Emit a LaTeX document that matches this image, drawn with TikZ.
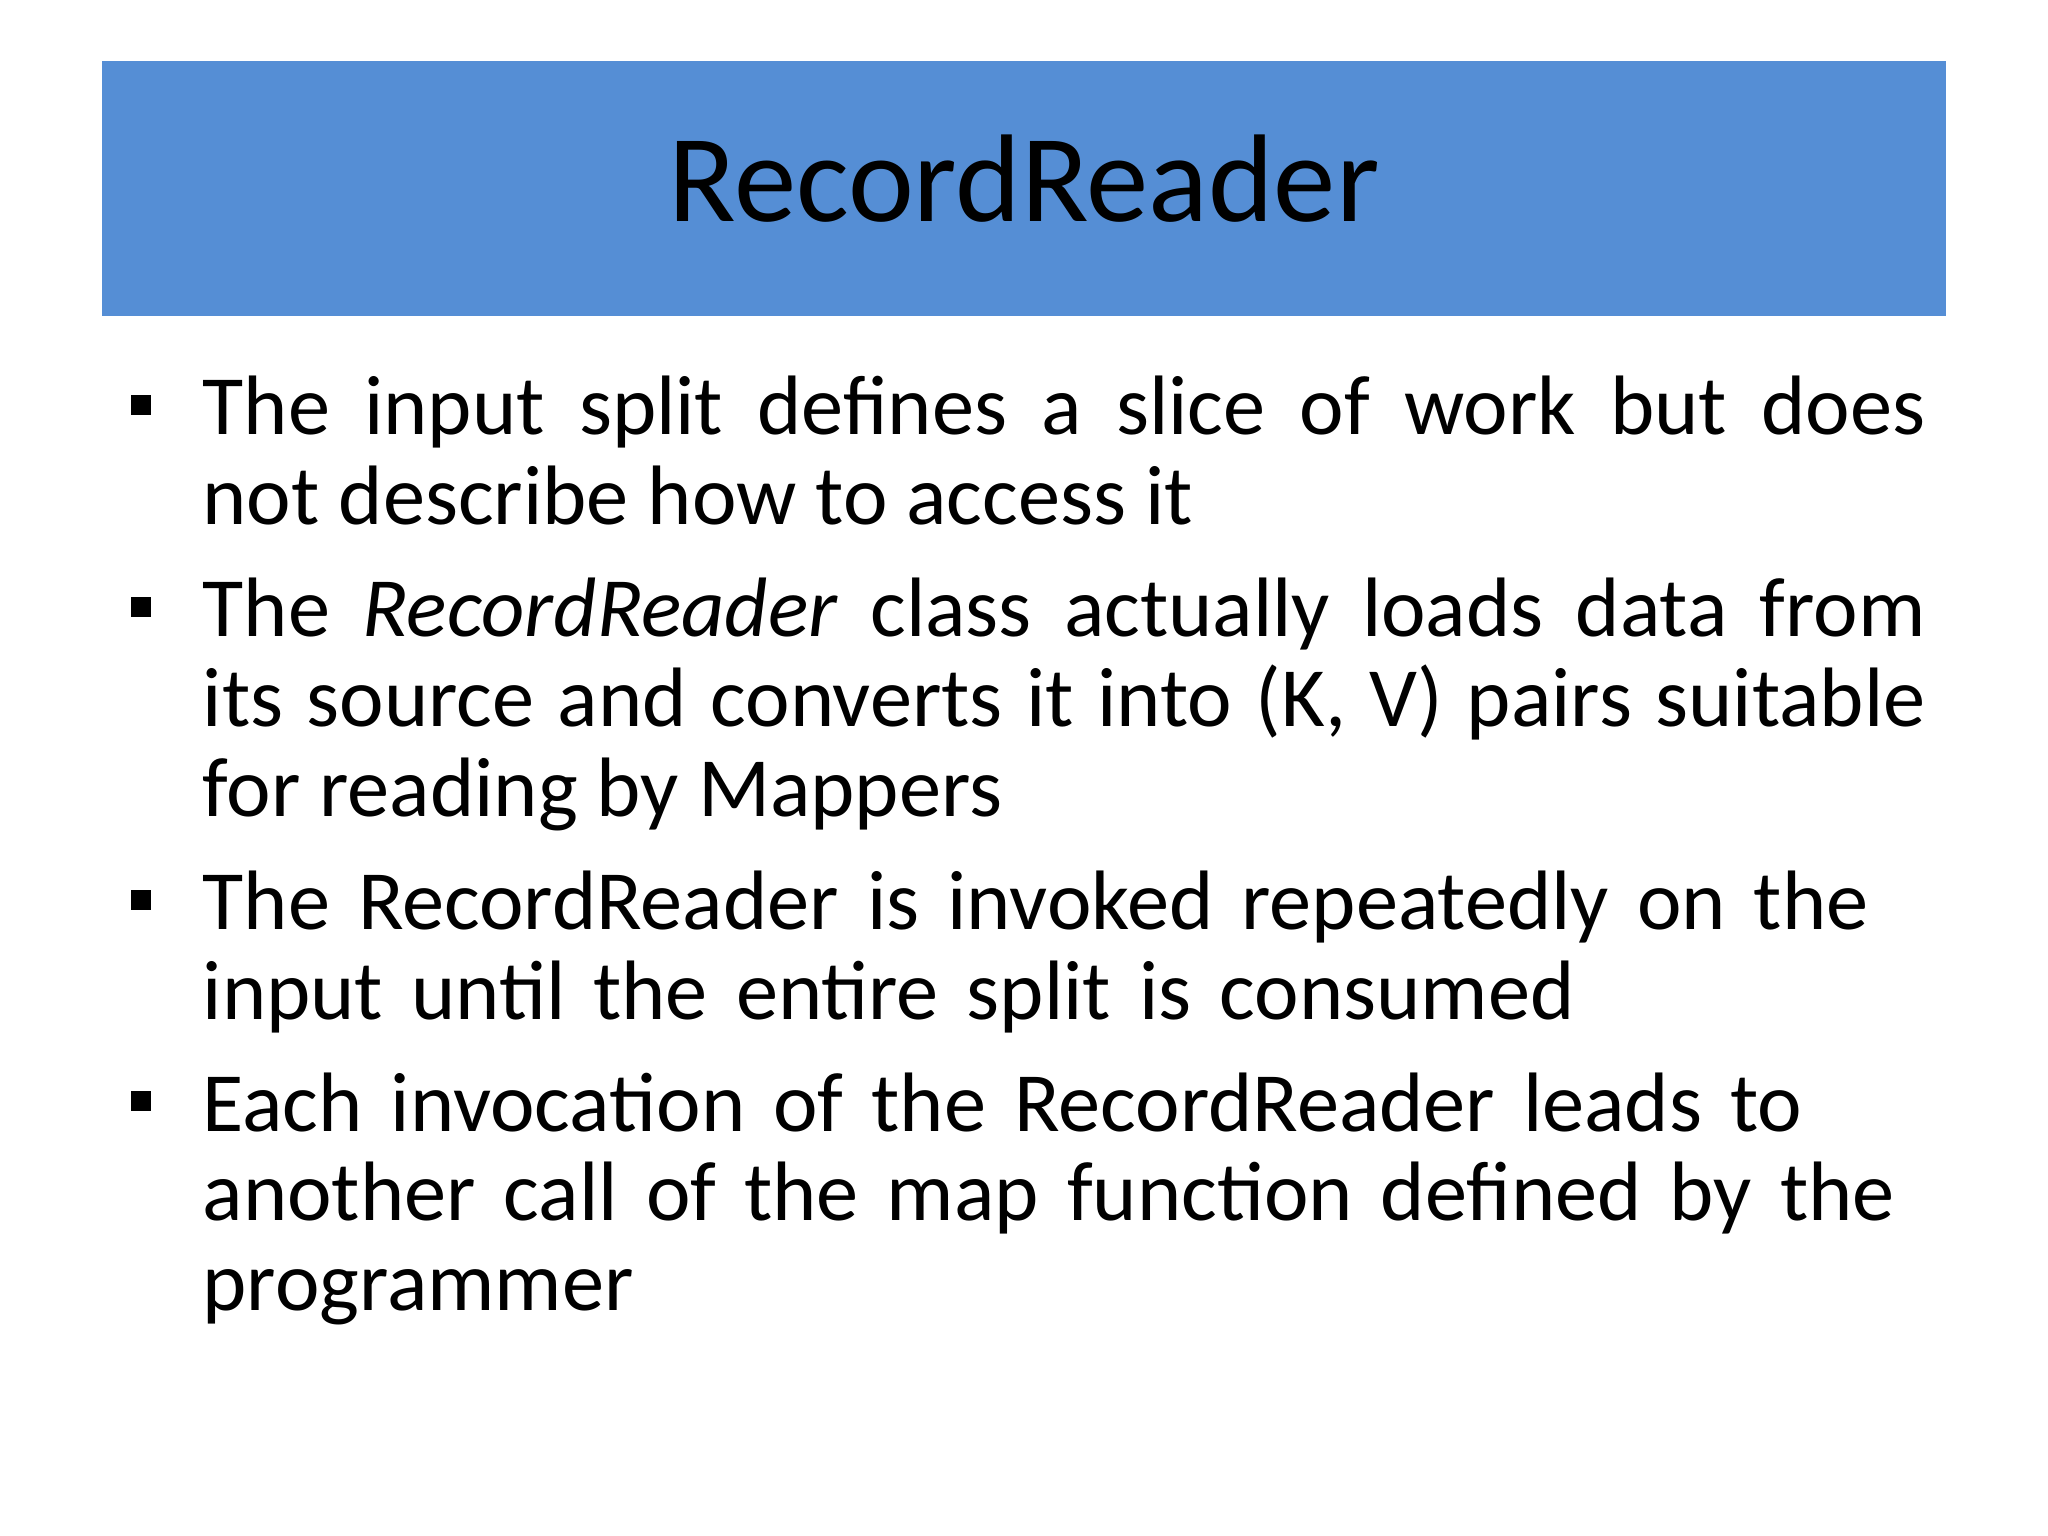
\documentclass[tikz,border=0pt]{standalone}
\usepackage{fontspec}
\setmainfont{Carlito}
\definecolor{titleblue}{HTML}{558ED5}
\tikzset{
  bul/.style={fill=black,minimum size=0.2cm,inner sep=0pt},
  item/.style={anchor=base west,inner sep=0pt,text width=17.23cm,font=\fontsize{24}{25.6}\selectfont},
}
\begin{document}
\begin{tikzpicture}[y=-1cm]
\useasboundingbox (0,0) rectangle (20.48,15.36);
\fill[titleblue] (1.02,0.61) rectangle (19.46,3.16);
\node[anchor=base,inner sep=0pt,font=\fontsize{35.5}{40}\selectfont] (title) at (10.24,2.22) {RecordReader};
\node[item,align=justify] (b1) at (2.02,4.35) {The input split defines a slice of work but does\linebreak not describe how to access it};
\node[item,align=justify] (b2) at (2.02,6.37) {The \textit{RecordReader} class actually loads data from\linebreak its source and converts it into (K, V) pairs suitable\linebreak for reading by Mappers};
\node[item,align=left] (b3) at (2.02,9.30) {The RecordReader is invoked repeatedly on the\\input until the entire split is consumed};
\node[item,align=left] (b4) at (2.02,11.31) {Each invocation of the RecordReader leads to\\another call of the map function defined by the\\programmer};
\node[bul] (s1) at (1.41,4.05) {};
\node[bul] (s2) at (1.41,6.07) {};
\node[bul] (s3) at (1.41,9.00) {};
\node[bul] (s4) at (1.41,11.01) {};
\end{tikzpicture}
\end{document}
